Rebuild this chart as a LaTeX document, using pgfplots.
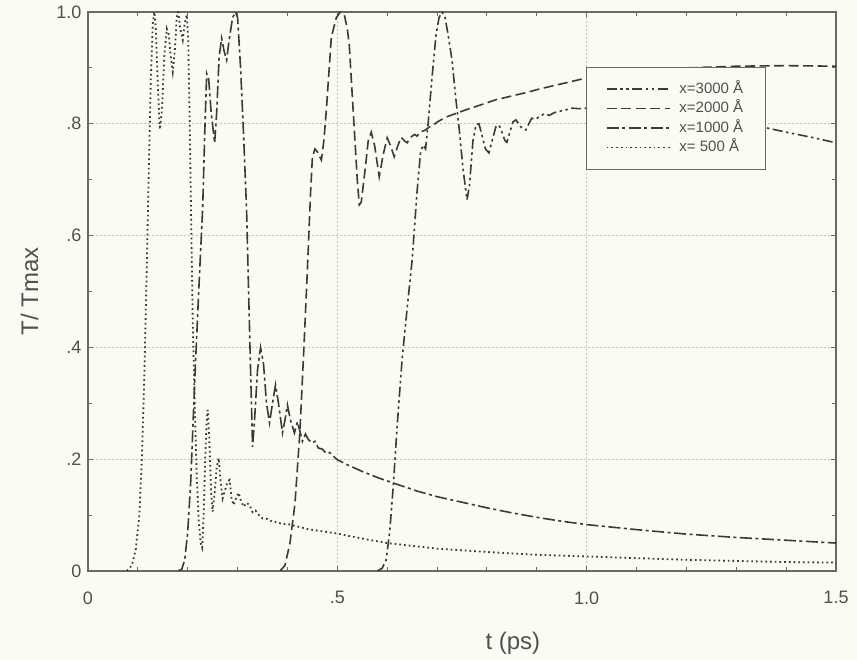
\documentclass[border=0pt]{standalone}
\usepackage{fontspec}
\setmainfont{Liberation Sans}
\usepackage{pgfplots}
\usepackage{pgfplotstable}
\pgfplotsset{compat=1.18}

\definecolor{paper}{RGB}{251,251,244}
\definecolor{ink}{RGB}{80,80,80}
\definecolor{pen}{RGB}{58,58,58}
\definecolor{frame}{RGB}{105,105,105}
\definecolor{gridc}{RGB}{195,195,188}

% normalised temperature T/Tmax against time, at four depths
\pgfplotstableread{
t y
0.580 0.000
0.590 0.005
0.598 0.020
0.605 0.070
0.612 0.150
0.620 0.260
0.630 0.380
0.640 0.470
0.650 0.556
0.660 0.680
0.667 0.750
0.672 0.762
0.677 0.755
0.682 0.800
0.690 0.884
0.698 0.960
0.704 0.990
0.710 1.000
0.716 0.990
0.722 0.960
0.730 0.914
0.737 0.850
0.744 0.794
0.752 0.720
0.760 0.664
0.765 0.690
0.772 0.770
0.778 0.798
0.784 0.800
0.790 0.780
0.797 0.755
0.804 0.748
0.812 0.775
0.818 0.795
0.824 0.798
0.830 0.785
0.836 0.770
0.840 0.767
0.846 0.785
0.852 0.803
0.858 0.807
0.864 0.800
0.870 0.792
0.878 0.789
0.884 0.800
0.890 0.810
0.897 0.808
0.904 0.812
0.915 0.818
0.925 0.815
0.935 0.820
0.944 0.822
0.955 0.824
0.970 0.828
0.985 0.827
1.000 0.828
1.050 0.830
1.100 0.831
1.150 0.830
1.200 0.825
1.250 0.816
1.300 0.806
1.364 0.792
1.400 0.785
1.450 0.776
1.500 0.766
}\depthC

\pgfplotstableread{
t y
0.385 0.000
0.395 0.010
0.405 0.050
0.415 0.120
0.425 0.250
0.433 0.400
0.440 0.540
0.446 0.670
0.450 0.740
0.455 0.755
0.460 0.750
0.468 0.735
0.473 0.770
0.478 0.825
0.488 0.955
0.498 0.990
0.506 1.000
0.514 0.995
0.520 0.970
0.524 0.940
0.534 0.790
0.540 0.700
0.544 0.655
0.548 0.660
0.556 0.720
0.562 0.770
0.568 0.785
0.575 0.760
0.584 0.705
0.592 0.745
0.600 0.775
0.607 0.760
0.614 0.741
0.621 0.760
0.628 0.776
0.634 0.770
0.640 0.766
0.647 0.776
0.655 0.781
0.660 0.778
0.667 0.786
0.675 0.788
0.684 0.794
0.692 0.797
0.700 0.803
0.718 0.812
0.758 0.825
0.818 0.843
0.884 0.857
0.904 0.862
1.000 0.882
1.100 0.893
1.200 0.900
1.300 0.903
1.400 0.904
1.500 0.903
}\depthB

\pgfplotstableread{
t y
0.180 0.000
0.188 0.003
0.194 0.020
0.200 0.070
0.206 0.160
0.214 0.340
0.222 0.500
0.230 0.650
0.234 0.780
0.238 0.890
0.242 0.880
0.247 0.820
0.254 0.766
0.258 0.820
0.263 0.920
0.268 0.953
0.273 0.930
0.278 0.914
0.283 0.950
0.290 0.990
0.296 1.000
0.300 0.990
0.306 0.900
0.312 0.780
0.318 0.646
0.324 0.430
0.330 0.222
0.334 0.270
0.340 0.360
0.346 0.400
0.352 0.370
0.358 0.300
0.364 0.265
0.370 0.300
0.376 0.333
0.382 0.300
0.390 0.247
0.395 0.270
0.400 0.297
0.406 0.270
0.414 0.247
0.420 0.267
0.425 0.250
0.430 0.232
0.436 0.245
0.442 0.235
0.450 0.229
0.455 0.232
0.462 0.220
0.470 0.218
0.478 0.210
0.485 0.212
0.498 0.200
0.520 0.190
0.550 0.178
0.584 0.166
0.620 0.155
0.660 0.143
0.700 0.133
0.750 0.123
0.800 0.113
0.850 0.104
0.900 0.096
0.950 0.089
1.000 0.083
1.100 0.074
1.200 0.066
1.300 0.060
1.400 0.055
1.500 0.050
}\depthA

\pgfplotstableread{
t y
0.078 0.000
0.088 0.010
0.096 0.040
0.103 0.100
0.108 0.200
0.113 0.350
0.118 0.550
0.122 0.720
0.126 0.880
0.130 0.980
0.133 1.000
0.136 0.970
0.140 0.870
0.144 0.790
0.148 0.820
0.153 0.920
0.158 0.970
0.162 0.960
0.166 0.920
0.170 0.893
0.174 0.930
0.178 0.990
0.181 1.000
0.185 0.970
0.190 0.950
0.194 0.980
0.198 0.995
0.201 0.950
0.204 0.800
0.207 0.620
0.210 0.450
0.214 0.300
0.218 0.170
0.222 0.090
0.226 0.050
0.229 0.042
0.232 0.100
0.235 0.200
0.238 0.270
0.240 0.288
0.243 0.240
0.247 0.140
0.250 0.106
0.254 0.140
0.258 0.185
0.262 0.202
0.266 0.160
0.270 0.130
0.275 0.145
0.280 0.160
0.284 0.163
0.288 0.130
0.292 0.118
0.297 0.130
0.302 0.140
0.307 0.125
0.312 0.115
0.318 0.122
0.324 0.118
0.330 0.105
0.336 0.108
0.343 0.100
0.350 0.094
0.360 0.093
0.370 0.088
0.380 0.087
0.390 0.084
0.400 0.084
0.418 0.080
0.440 0.075
0.470 0.071
0.500 0.067
0.550 0.058
0.600 0.050
0.650 0.045
0.700 0.040
0.800 0.034
0.900 0.029
1.000 0.026
1.100 0.023
1.200 0.020
1.300 0.018
1.400 0.016
1.500 0.015
}\depthH

\begin{document}
\begin{tikzpicture}[x=1pt,y=1pt]
\useasboundingbox (-88,-89) rectangle (769,571);
\fill[paper] (-88,-89) rectangle (769,571);
\begin{axis}[
  at={(0,0)}, anchor=south west,
  scale only axis, width=748pt, height=559pt,
  xmin=0, xmax=1.5, ymin=0, ymax=1,
  axis line style={frame, line width=1.1pt},
  xtick={0,0.5,1,1.5}, xticklabels={0,.5,1.0,1.5},
  ytick={0,0.2,0.4,0.6,0.8,1}, yticklabels={0,.2,.4,.6,.8,1.0},
  minor xtick={0.1,0.2,0.3,0.4,0.6,0.7,0.8,0.9,1.1,1.2,1.3,1.4},
  minor ytick={0.1,0.3,0.5,0.7,0.9},
  tick align=inside,
  major tick length=5pt, minor tick length=4pt,
  every tick/.style={frame, line width=0.9pt},
  grid=major,
  major grid style={gridc, line width=0.8pt, dash pattern=on 2pt off 2pt},
  /pgf/number format/assume math mode=true,
  ticklabel style={font=\fontsize{18}{20}\selectfont, text=ink},
  xticklabel style={yshift=-17pt},
  yticklabel style={xshift=-3pt},
  xlabel={t (ps)}, ylabel={T/ Tmax},
  label style={font=\fontsize{24}{28}\selectfont, text=ink},
  x label style={at={(axis description cs:0.568,-0.129)}, anchor=center},
  y label style={at={(axis description cs:-0.078,0.5)}, anchor=center},
  legend style={
    at={(axis cs:0.998,0.902)}, anchor=north west,
    draw=frame, line width=0.9pt, fill=paper,
    font=\fontsize{15}{17}\selectfont, text=ink,
    inner xsep=20pt, inner ysep=13pt, row sep=2pt,
    nodes={inner sep=2pt, text depth=2.5pt, text height=11pt},
    /tikz/every odd column/.append style={column sep=7pt},
  },
  legend cell align=left,
  legend image code/.code={\draw[#1, line width=1.3pt] (0pt,0pt) -- (63pt,0pt);},
  every axis plot/.append style={pen, line width=1.6pt},
]
\addplot[dash pattern=on 10pt off 3.5pt on 2.5pt off 3.5pt on 2.5pt off 3.5pt] table {\depthC};
\addlegendentry{x=3000 Å}
\addplot[dash pattern=on 10pt off 4.5pt] table {\depthB};
\addlegendentry{x=2000 Å}
\addplot[dash pattern=on 12pt off 3.5pt on 3pt off 3.5pt] table {\depthA};
\addlegendentry{x=1000 Å}
\addplot[line width=1.8pt, dash pattern=on 1.7pt off 3pt] table {\depthH};
\addlegendentry{x= 500 Å}
\end{axis}
\end{tikzpicture}
\end{document}
